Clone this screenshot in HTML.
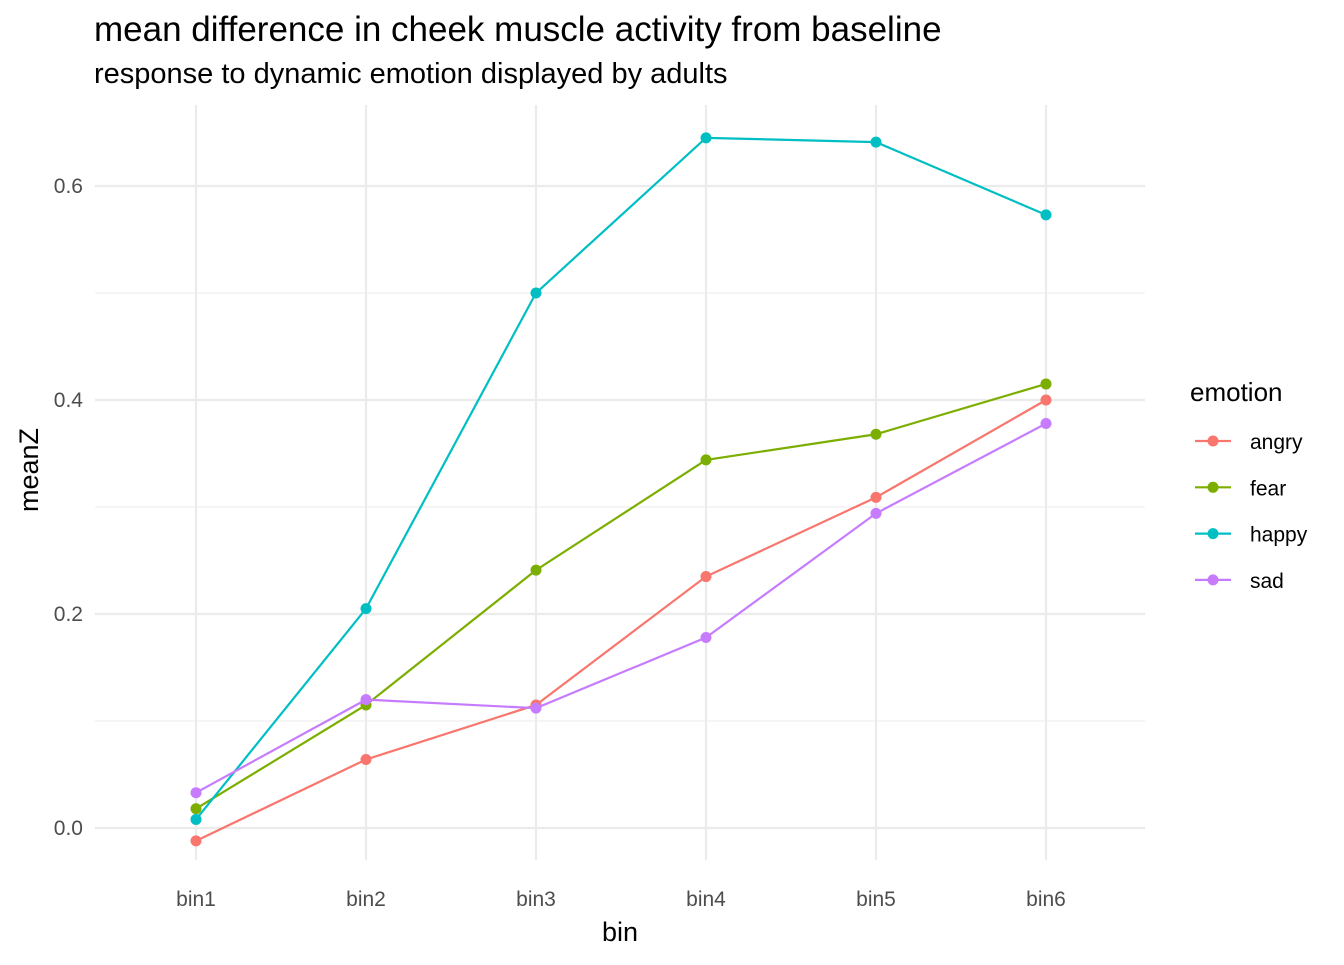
<!DOCTYPE html>
<html><head><meta charset="utf-8"><style>
body{margin:0;background:#fff;font-family:"Liberation Sans",sans-serif}
</style></head><body>
<svg id="chart" width="1344" height="960" xmlns="http://www.w3.org/2000/svg" font-family="Liberation Sans, sans-serif">
<text x="94" y="41" font-size="35" fill="#000">mean difference in cheek muscle activity from baseline</text>
<text x="94" y="83" font-size="29" fill="#000">response to dynamic emotion displayed by adults</text>
<g id="grid"></g><g id="series"></g><g id="axes"></g><g id="legend"></g>
<text x="620" y="941" font-size="27" text-anchor="middle">bin</text>
<text transform="translate(38,470) rotate(-90)" font-size="27" text-anchor="middle">meanZ</text>
</svg>
<script>
const categories=["bin1","bin2","bin3","bin4","bin5","bin6"];
const seriesNames=["angry","fear","happy","sad"];
const angry=[-0.012,0.064,0.115,0.235,0.309,0.400];
const fear=[0.018,0.115,0.241,0.344,0.368,0.415];
const happy=[0.008,0.205,0.500,0.645,0.641,0.573];
const sad=[0.033,0.120,0.112,0.178,0.294,0.378];
const yTicks=[0,0.2,0.4,0.6];
const yTickLabels=["0.0","0.2","0.4","0.6"];
const colors=["#F8766D","#7CAE00","#00BFC4","#C77CFF"];
const ns="http://www.w3.org/2000/svg";
const px0=95,px1=1145,py0=105,py1=860;
const x=i=>196+i*170;
const y=v=>828-v*1070;
function mk(t,a,p){const e=document.createElementNS(ns,t);for(const k in a)e.setAttribute(k,a[k]);p.appendChild(e);return e;}
const grid=document.getElementById('grid'),axes=document.getElementById('axes'),ser=document.getElementById('series'),leg=document.getElementById('legend');
for(let k=0;k<yTicks.length;k++){
 const yy=y(yTicks[k]);
 const l=mk('line',{x1:px0,x2:px1,y1:yy,y2:yy,stroke:'#ebebeb','stroke-width':2.2},grid);
 
 
 if(k<yTicks.length-1){const ym=y((yTicks[k]+yTicks[k+1])/2);
 const m=mk('line',{x1:px0,x2:px1,y1:ym,y2:ym,stroke:'#ebebeb','stroke-width':1.1},grid);
 
 }
 const t=mk('text',{x:83,y:yy+7,'font-size':21,fill:'#4d4d4d','text-anchor':'end'},axes);
 t.textContent=yTickLabels[k];
 
 
}
categories.forEach((c,i)=>{
 const l=mk('line',{x1:x(i),x2:x(i),y1:py0,y2:py1,stroke:'#ebebeb','stroke-width':2.2},grid);
 
 
 const t=mk('text',{x:x(i),y:906,'font-size':21,fill:'#4d4d4d','text-anchor':'middle'},axes);
 t.textContent=c;
 
 
});
[angry,fear,happy,sad].forEach((d,s)=>{
 const p=mk('polyline',{points:d.map((v,i)=>x(i)+','+y(v)).join(' '),fill:'none',stroke:colors[s],'stroke-width':2.2},ser);
 
 
 d.forEach((v,i)=>{const c=mk('circle',{cx:x(i),cy:y(v),r:5.5,fill:colors[s]},ser);
 
 });
});
const lt=mk('text',{x:1190,y:401,'font-size':26},leg);lt.textContent='emotion';


seriesNames.forEach((n,s)=>{
 const yy=441+s*46.3;
 const g=mk('g',{},leg);
 
 
 mk('line',{x1:1195,x2:1231,y1:yy,y2:yy,stroke:colors[s],'stroke-width':2.2},g);
 mk('circle',{cx:1213,cy:yy,r:5.5,fill:colors[s]},g);
 const t=mk('text',{x:1250,y:yy+8,'font-size':21},g);t.textContent=n;
});
</script>
</body></html>
